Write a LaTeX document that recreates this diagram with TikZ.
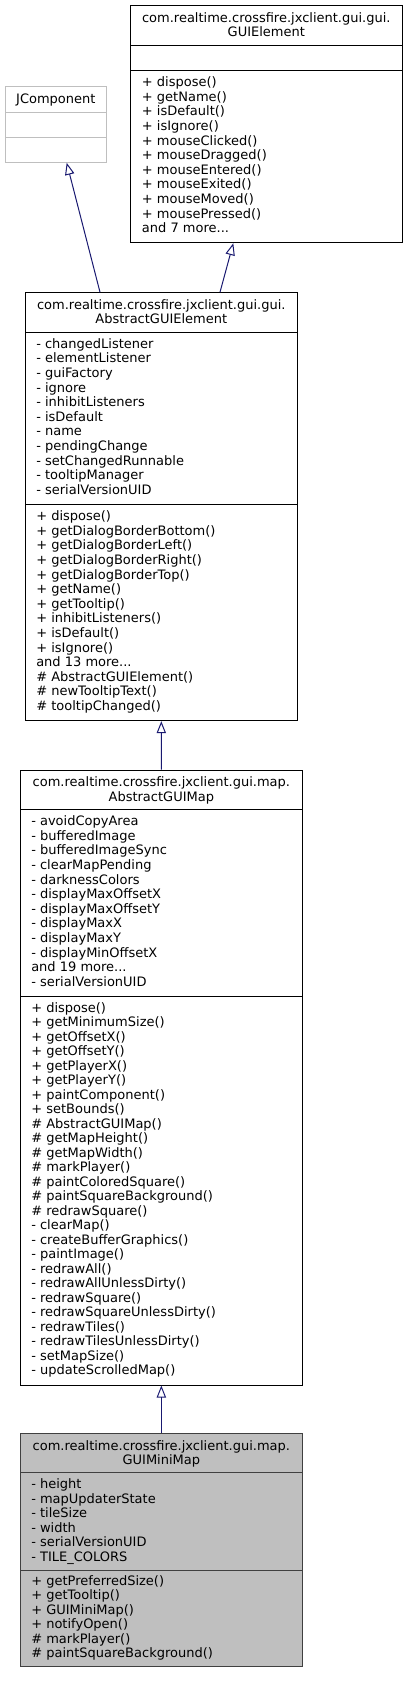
\documentclass[tikz,border=0pt]{standalone}
\usepackage{fontspec}
\setmainfont{DejaVu Sans}
\usetikzlibrary{arrows.meta,fit}
\definecolor{edgeblue}{HTML}{191970}
\definecolor{fillgray}{HTML}{BFBFBF}
\definecolor{bordergray}{HTML}{404040}
\definecolor{lightborder}{HTML}{BFBFBF}
\newcommand\mydots{...}
\newcommand\textlines[4]{%
  \foreach \t [count=\i from 0] in {#4} \node[txt] at (#1,{#2+\i*#3}) {\t};}
\begin{document}
\begin{tikzpicture}[x=0.75pt,y=-0.75pt,
  box/.style={draw=black, line width=0.75pt, inner sep=0pt},
  minibox/.style={draw=bordergray, fill=fillgray, line width=0.75pt, inner sep=0pt},
  extbox/.style={draw=lightborder, line width=0.75pt, inner sep=0pt},
  sepline/.style={line width=0.75pt},
  txt/.style={anchor=base west, inner sep=0pt, font=\fontsize{9.75}{11}\selectfont},
  ttl/.style={anchor=base, inner sep=0pt, font=\fontsize{9.75}{11}\selectfont},
  inh/.style={draw=edgeblue, line width=0.75pt, -{Triangle[open, length=9pt, width=7pt]}}]
\useasboundingbox (0,0) rectangle (408,1681);

% GUIElement
\node[box, fit={(130.3,5.7) (402.3,242.7)}] (ge) {};
\draw[sepline] (130.3,45.7) -- (402.3,45.7);
\draw[sepline] (130.3,70.7) -- (402.3,70.7);
\node[ttl] at (266.3,22.3) {com.realtime.crossfire.jxclient.gui.gui.};
\node[ttl] at (266.3,36.9) {GUIElement};
\textlines{141.7}{86.7}{14.6}{+ dispose(),+ getName(),+ isDefault(),+ isIgnore(),+ mouseClicked(),+ mouseDragged(),+ mouseEntered(),+ mouseExited(),+ mouseMoved(),+ mousePressed(),and 7 more\mydots}

% JComponent
\node[extbox, fit={(5,86.7) (106.7,162.3)}] (jc) {};
\draw[lightborder, line width=0.75pt] (5,112) -- (106.7,112);
\draw[lightborder, line width=0.75pt] (5,137) -- (106.7,137);
\node[ttl] at (55.85,103) {JComponent};

% AbstractGUIElement
\node[box, fit={(25.3,292.7) (297.3,720.7)}] (age) {};
\draw[sepline] (25.3,332.3) -- (297.3,332.3);
\draw[sepline] (25.3,504.7) -- (297.3,504.7);
\node[ttl] at (161.3,309.3) {com.realtime.crossfire.jxclient.gui.gui.};
\node[ttl] at (161.3,323.9) {AbstractGUIElement};
\textlines{36}{348.3}{14.6}{- changedListener,- elementListener,- guiFactory,- ignore,- inhibitListeners,- isDefault,- name,- pendingChange,- setChangedRunnable,- tooltipManager,- serialVersionUID}
\textlines{36}{520.7}{14.6}{+ dispose(),+ getDialogBorderBottom(),+ getDialogBorderLeft(),+ getDialogBorderRight(),+ getDialogBorderTop(),+ getName(),+ getTooltip(),+ inhibitListeners(),+ isDefault(),+ isIgnore(),and 13 more\mydots,\# AbstractGUIElement(),\# newTooltipText(),\# tooltipChanged()}

% AbstractGUIMap
\node[box, fit={(20.7,770) (302,1385)}] (agm) {};
\draw[sepline] (20.7,809.7) -- (302,809.7);
\draw[sepline] (20.7,996.3) -- (302,996.3);
\node[ttl] at (161.35,786.6) {com.realtime.crossfire.jxclient.gui.map.};
\node[ttl] at (161.35,801.2) {AbstractGUIMap};
\textlines{31}{825.7}{14.6}{- avoidCopyArea,- bufferedImage,- bufferedImageSync,- clearMapPending,- darknessColors,- displayMaxOffsetX,- displayMaxOffsetY,- displayMaxX,- displayMaxY,- displayMinOffsetX,and 19 more\mydots,- serialVersionUID}
\textlines{31}{1012.3}{14.5}{+ dispose(),+ getMinimumSize(),+ getOffsetX(),+ getOffsetY(),+ getPlayerX(),+ getPlayerY(),+ paintComponent(),+ setBounds(),\# AbstractGUIMap(),\# getMapHeight(),\# getMapWidth(),\# markPlayer(),\# paintColoredSquare(),\# paintSquareBackground(),\# redrawSquare(),- clearMap(),- createBufferGraphics(),- paintImage(),- redrawAll(),- redrawAllUnlessDirty(),- redrawSquare(),- redrawSquareUnlessDirty(),- redrawTiles(),- redrawTilesUnlessDirty(),- setMapSize(),- updateScrolledMap()}

% GUIMiniMap
\node[minibox, fit={(20.7,1433.3) (302,1666.7)}] (gmm) {};
\draw[bordergray, line width=0.75pt] (20.7,1472.7) -- (302,1472.7);
\draw[bordergray, line width=0.75pt] (20.7,1570) -- (302,1570);
\node[ttl] at (161.35,1450) {com.realtime.crossfire.jxclient.gui.map.};
\node[ttl] at (161.35,1464) {GUIMiniMap};
\textlines{31}{1488.5}{14.5}{- height,- mapUpdaterState,- tileSize,- width,- serialVersionUID,- TILE\_COLORS}
\textlines{31}{1585.5}{14.4}{+ getPreferredSize(),+ getTooltip(),+ GUIMiniMap(),+ notifyOpen(),\# markPlayer(),\# paintSquareBackground()}

% connectors
\coordinate (j1) at (100,0);
\coordinate (j2) at (66.7,0);
\coordinate (g1) at (220,0);
\coordinate (g2) at (233.3,0);
\draw[inh] (age.north -| j1) -- (jc.south -| j2);
\draw[inh] (age.north -| g1) -- (ge.south -| g2);
\draw[inh] (agm.north) -- (age.south);
\draw[inh] (gmm.north) -- (agm.south);
\end{tikzpicture}
\end{document}
